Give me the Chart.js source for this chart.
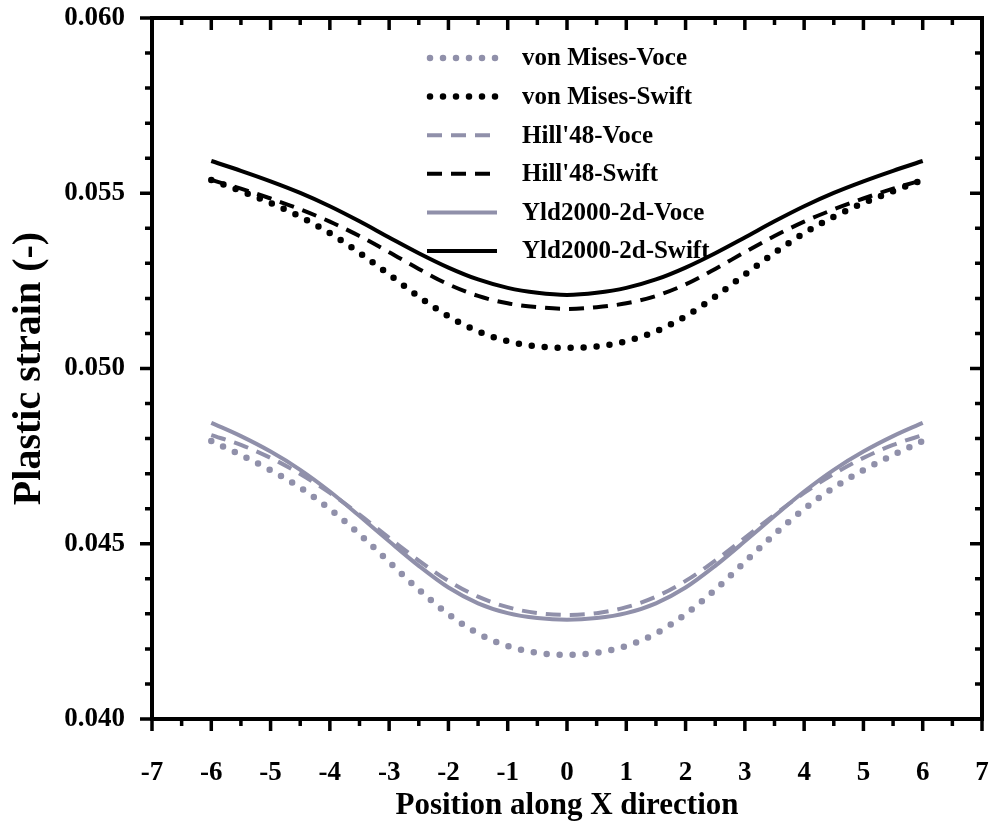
<!DOCTYPE html>
<html><head><meta charset="utf-8">
<script src="https://cdn.jsdelivr.net/npm/chart.js@4"></script>
<style>html,body{margin:0;padding:0;background:#fff}</style>
</head><body>
<canvas id="c" width="995" height="831"></canvas>
<script>
// ---- data ----
const positions = [-6,-5.5,-5,-4.5,-4,-3.5,-3,-2.5,-2,-1.5,-1,-0.5,0,0.5,1,1.5,2,2.5,3,3.5,4,4.5,5,5.5,6];
const vonMisesVoce  = [0.04793,0.04753,0.04710,0.04660,0.04599,0.04527,0.04448,0.04369,0.04299,0.04244,0.04208,0.04189,0.04183,0.04189,0.04208,0.04244,0.04299,0.04369,0.04448,0.04527,0.04599,0.04660,0.04710,0.04753,0.04793];
const vonMisesSwift = [0.05538,0.05506,0.05472,0.05433,0.05386,0.05330,0.05268,0.05205,0.05149,0.05106,0.05078,0.05063,0.05059,0.05063,0.05078,0.05106,0.05149,0.05205,0.05268,0.05330,0.05386,0.05433,0.05472,0.05506,0.05538];
const hill48Voce    = [0.04810,0.04782,0.04745,0.04699,0.04645,0.04583,0.04517,0.04452,0.04394,0.04349,0.04319,0.04302,0.04297,0.04302,0.04319,0.04349,0.04394,0.04452,0.04517,0.04583,0.04645,0.04699,0.04745,0.04782,0.04810];
const hill48Swift   = [0.05538,0.05513,0.05485,0.05454,0.05419,0.05378,0.05332,0.05284,0.05240,0.05207,0.05186,0.05175,0.05170,0.05175,0.05186,0.05207,0.05240,0.05284,0.05332,0.05378,0.05419,0.05454,0.05485,0.05513,0.05538];
const yld2000Voce   = [0.04845,0.04807,0.04763,0.04711,0.04649,0.04579,0.04507,0.04437,0.04375,0.04330,0.04302,0.04288,0.04283,0.04288,0.04302,0.04330,0.04375,0.04437,0.04507,0.04579,0.04649,0.04711,0.04763,0.04807,0.04845];
const yld2000Swift  = [0.05592,0.05564,0.05534,0.05501,0.05463,0.05420,0.05374,0.05329,0.05288,0.05254,0.05230,0.05216,0.05210,0.05216,0.05230,0.05254,0.05288,0.05329,0.05374,0.05420,0.05463,0.05501,0.05534,0.05564,0.05592];
const seriesNames = ["von Mises-Voce","von Mises-Swift","Hill'48-Voce","Hill'48-Swift","Yld2000-2d-Voce","Yld2000-2d-Swift"];
const xTickRange = [-7, 7];
const yTickRange = [0.040, 0.060];

const GRAY = '#9090aa', BLACK = '#000000';
const FONT = "'Liberation Serif','Times New Roman',serif";

function pts(arr){ return positions.map((x,i)=>({x:x,y:arr[i]})); }
const styles = [
  {c:GRAY, dash:[0,13], w:6.5, cap:'round'},
  {c:BLACK, dash:[0,13], w:6.5, cap:'round'},
  {c:GRAY, dash:[15,9], w:4, cap:'butt'},
  {c:BLACK, dash:[15,9], w:4, cap:'butt'},
  {c:GRAY, dash:[], w:4, cap:'butt'},
  {c:BLACK, dash:[], w:4, cap:'butt'}
];
const allSeries = [vonMisesVoce, vonMisesSwift, hill48Voce, hill48Swift, yld2000Voce, yld2000Swift];
const datasets = allSeries.map((s,i)=>({
  label: seriesNames[i], data: pts(s),
  borderColor: styles[i].c, borderWidth: styles[i].w, borderDash: styles[i].dash,
  borderCapStyle: styles[i].cap, pointRadius: 0, fill:false,
  cubicInterpolationMode: 'monotone'
}));

const framePlugin = {
  id: 'frame',
  afterDatasetsDraw(chart){
    const ctx = chart.ctx, a = chart.chartArea, xs = chart.scales.x, ys = chart.scales.y;
    ctx.save();
    ctx.strokeStyle = '#000'; ctx.lineWidth = 3.5; ctx.setLineDash([]); ctx.lineCap='butt';
    for (let k = xTickRange[0]*2; k <= xTickRange[1]*2; k++) {
      const v = k/2, px = xs.getPixelForValue(v), L = (k%2===0)?12:7;
      ctx.beginPath();
      ctx.moveTo(px, a.bottom); ctx.lineTo(px, a.bottom + L);
      ctx.moveTo(px, a.top); ctx.lineTo(px, a.top + L);
      ctx.stroke();
    }
    for (let k = 40; k <= 60; k++) {
      const v = k/1000, py = ys.getPixelForValue(v), L = (k%5===0)?12:7;
      ctx.beginPath();
      ctx.moveTo(a.left, py); ctx.lineTo(a.left - L, py);
      ctx.moveTo(a.right, py); ctx.lineTo(a.right - L, py);
      ctx.stroke();
    }
    ctx.lineWidth = 4;
    ctx.strokeRect(a.left, a.top, a.right - a.left, a.bottom - a.top);
    // legend
    const x0 = 427, x1 = 497, tx = 522, y0 = 58, dy = 38.6;
    chart.data.datasets.forEach((d,i)=>{
      const y = y0 + i*dy;
      ctx.strokeStyle = d.borderColor; ctx.lineWidth = d.borderWidth;
      ctx.setLineDash(d.borderDash); ctx.lineCap = d.borderCapStyle;
      ctx.beginPath(); ctx.moveTo(x0 + (d.borderCapStyle==='round'?3:0), y); ctx.lineTo(x1, y); ctx.stroke();
      ctx.setLineDash([]);
      ctx.fillStyle = '#000'; ctx.font = "bold 25px " + FONT; ctx.textBaseline='middle'; ctx.textAlign='left';
      ctx.fillText(d.label, tx, y+1);
    });
    ctx.restore();
  }
};

new Chart(document.getElementById('c'), {
  type: 'line',
  data: { datasets },
  options: {
    responsive: false, animation: false, devicePixelRatio: 1,
    layout: { padding: { top: 18, right: 13, left: 0, bottom: 0 } },
    plugins: { legend: { display: false }, tooltip: { enabled: false } },
    scales: {
      x: {
        type: 'linear', min: xTickRange[0], max: xTickRange[1],
        grid: { display: false }, border: { display: false },
        ticks: { stepSize: 1, color: '#000', padding: 30, font: { family: FONT, size: 27, weight: 'bold' } },
        title: { display: true, text: 'Position along X direction', color: '#000', padding: { top: 0, bottom: 6 }, font: { family: FONT, size: 31, weight: 'bold' } },
        afterFit(s){ s.height = 112; s.paddingLeft = 0; s.paddingRight = 0; }
      },
      y: {
        min: yTickRange[0], max: yTickRange[1],
        grid: { display: false }, border: { display: false },
        ticks: { stepSize: 0.005, color: '#000', padding: 19, font: { family: FONT, size: 27, weight: 'bold' },
                 callback: v => v.toFixed(3) },
        title: { display: true, text: 'Plastic strain (-)', color: '#000', padding: { top: 6, bottom: 0 }, font: { family: FONT, size: 40, weight: 'bold' } },
        afterFit(s){ s.width = 152; s.paddingTop = 0; s.paddingBottom = 0; }
      }
    }
  },
  plugins: [framePlugin]
});
</script>
</body></html>
